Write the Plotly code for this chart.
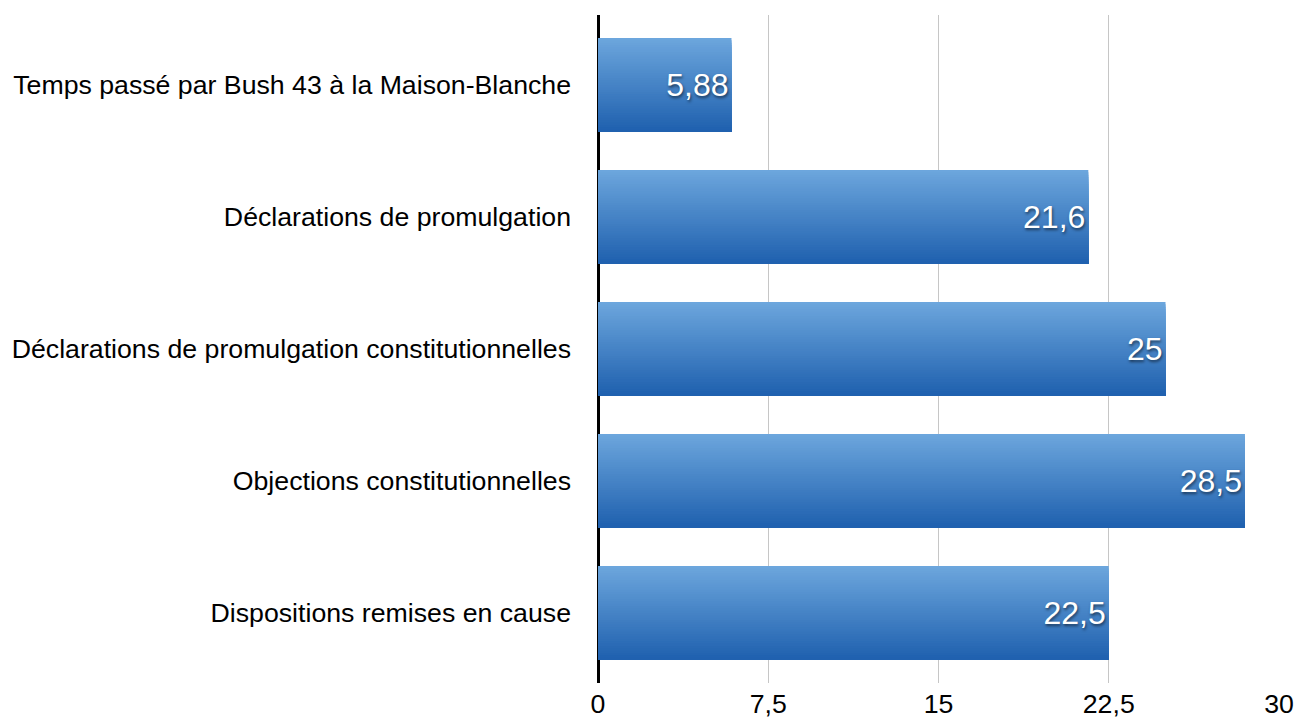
import numpy as np
import plotly.graph_objects as go

# Data
categories = [
    "Temps passé par Bush 43 à la Maison-Blanche",
    "Déclarations de promulgation",
    "Déclarations de promulgation constitutionnelles",
    "Objections constitutionnelles",
    "Dispositions remises en cause",
]
values = [5.88, 21.6, 25, 28.5, 22.5]
tick_vals = [0, 7.5, 15, 22.5, 30]

labels = [("%g" % v).replace(".", ",") for v in values]

# Gradient: light on top, darker at the bottom
top_rgb = np.array([108, 166, 221])
bot_rgb = np.array([32, 97, 175])
n_bands = 40
bar_w = 0.712

fig = go.Figure()

# each band runs from its offset to the bar bottom, so no gaps show
for i in range(n_bands):
    t = i / (n_bands - 1)
    c = top_rgb + (bot_rgb - top_rgb) * t
    fig.add_trace(go.Bar(
        x=values, y=categories,
        orientation="h",
        width=bar_w - i * bar_w / n_bands,
        offset=-bar_w / 2 + i * bar_w / n_bands,
        marker=dict(color="rgb(%d,%d,%d)" % tuple(c), line=dict(width=0)),
        hoverinfo="skip",
        showlegend=False,
    ))

# Value labels
fig.add_trace(go.Bar(
    x=values, y=categories,
    orientation="h",
    width=bar_w,
    marker=dict(color="rgba(0,0,0,0)", line=dict(width=0)),
    text=labels,
    textposition="inside",
    insidetextanchor="end",
    constraintext="none",
    textfont=dict(family="Liberation Sans, Arial, sans-serif", size=32, color="white",
                  shadow="1px 2px 3px rgba(0,0,0,0.55)"),
    showlegend=False,
))

fig.update_layout(
    barmode="overlay",
    width=1296, height=720,
    margin=dict(l=598, r=17, t=15, b=37, autoexpand=False),
    paper_bgcolor="white",
    plot_bgcolor="white",
    separators=", ",
    font=dict(family="Liberation Sans, Arial, sans-serif", size=26.7, color="black"),
    xaxis=dict(
        range=[0, 30],
        tickvals=tick_vals,
        automargin=False,
        showgrid=True, gridcolor="#c6c6c6", gridwidth=1,
        zeroline=True, zerolinecolor="black", zerolinewidth=2.5,
        showline=False,
        ticks="", ticklabelstandoff=2,
        tickfont=dict(size=26.7),
    ),
    yaxis=dict(
        range=[4.53, -0.53],
        automargin=False,
        showgrid=False, zeroline=False, showline=False,
        ticks="", ticklabelstandoff=26,
        tickfont=dict(size=26.7),
    ),
)

fig.write_html("out.html", config={"displayModeBar": False},
               post_script="document.body.style.margin='0';")
